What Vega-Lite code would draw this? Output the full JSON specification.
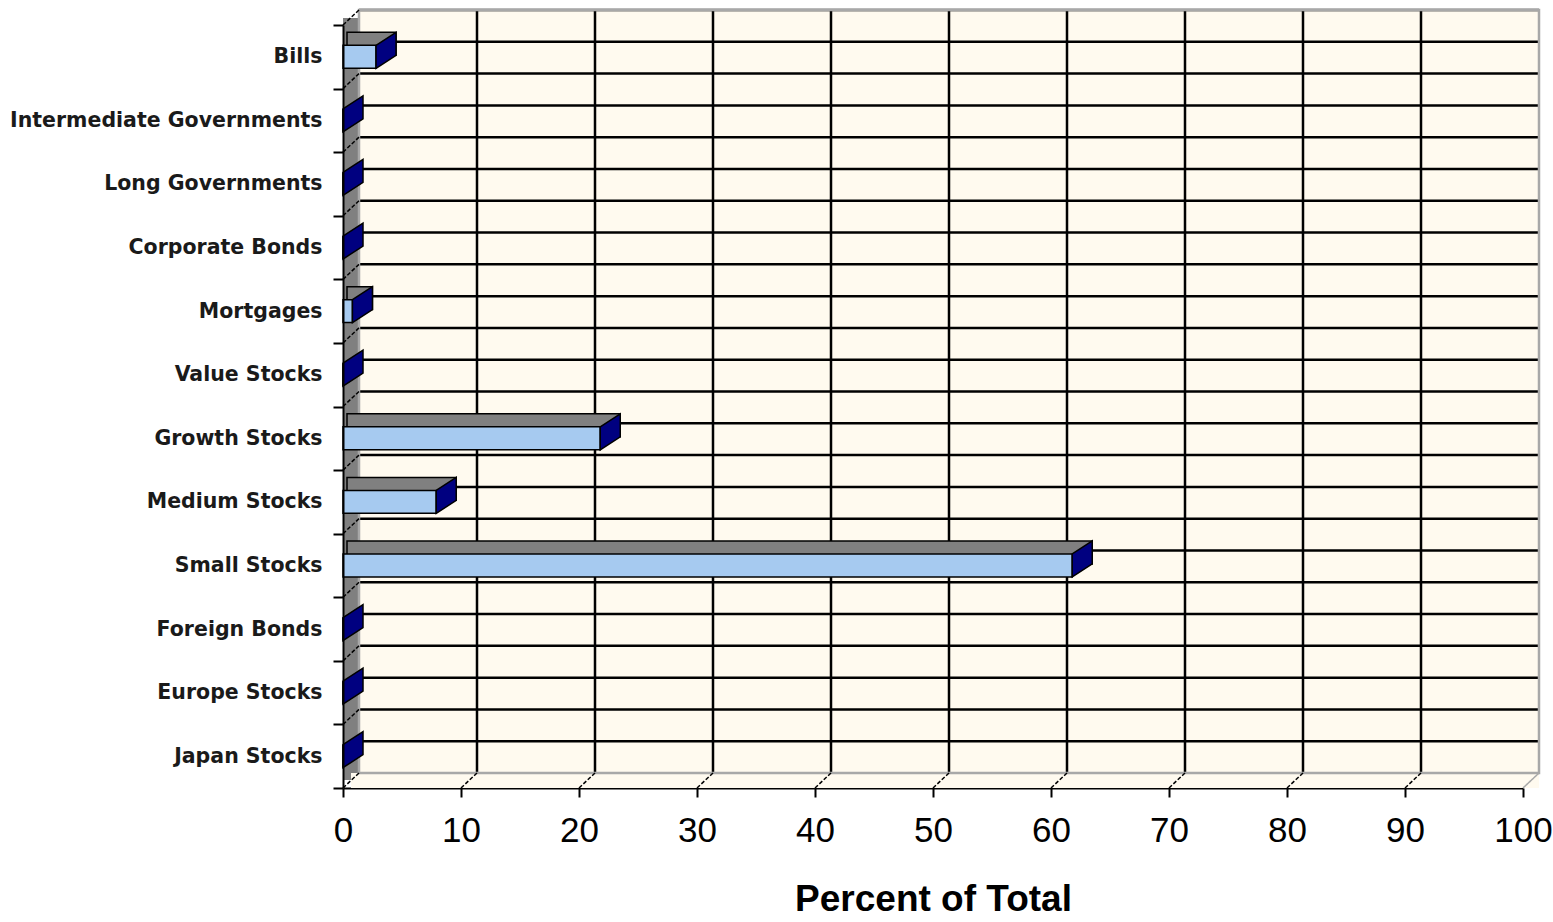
{
  "$schema": "https://vega.github.io/schema/vega-lite/v6.json",
  "autosize": "none",
  "width": 1180,
  "height": 763,
  "padding": {"left": 343, "top": 25, "right": 30, "bottom": 134},
  "background": "#ffffff",
  "config": {"view": {"stroke": null}},
  "datasets": {
    "alloc": [
      {"asset": "Bills", "pct": 2.8},
      {"asset": "Intermediate Governments", "pct": 0},
      {"asset": "Long Governments", "pct": 0},
      {"asset": "Corporate Bonds", "pct": 0},
      {"asset": "Mortgages", "pct": 0.8},
      {"asset": "Value Stocks", "pct": 0},
      {"asset": "Growth Stocks", "pct": 21.8},
      {"asset": "Medium Stocks", "pct": 7.9},
      {"asset": "Small Stocks", "pct": 61.8},
      {"asset": "Foreign Bonds", "pct": 0},
      {"asset": "Europe Stocks", "pct": 0},
      {"asset": "Japan Stocks", "pct": 0}
    ],
    "ticks": [
      {"t": 0}, {"t": 10}, {"t": 20}, {"t": 30}, {"t": 40}, {"t": 50},
      {"t": 60}, {"t": 70}, {"t": 80}, {"t": 90}, {"t": 100}
    ],
    "frame": [{"part": "wall"}]
  },
  "layer": [
    {
      "description": "back wall fill",
      "data": {"name": "frame"},
      "mark": {"type": "rect", "fill": "#fffaef", "xOffset": 16, "x2Offset": 16, "yOffset": -15, "y2Offset": -15},
      "encoding": {
        "x": {"datum": 0, "type": "quantitative", "scale": {"domain": [0, 100], "nice": false, "zero": true},
              "axis": {"title": "Percent of Total", "values": [0, 10, 20, 30, 40, 50, 60, 70, 80, 90, 100], "grid": false,
                       "domainColor": "#000000", "domainWidth": 2, "tickColor": "#000000", "tickWidth": 2, "tickSize": 9,
                       "labelFont": "Liberation Sans", "labelFontSize": 35, "labelColor": "#000000", "labelPadding": 16, "labelFlush": false,
                       "titleFont": "Liberation Sans", "titleFontSize": 37, "titleFontWeight": "bold", "titleColor": "#000000", "titlePadding": 33}},
        "x2": {"datum": 100},
        "y": {"datum": "Bills", "type": "nominal", "bandPosition": 0,
              "scale": {"domain": ["Bills", "Intermediate Governments", "Long Governments", "Corporate Bonds", "Mortgages", "Value Stocks", "Growth Stocks", "Medium Stocks", "Small Stocks", "Foreign Bonds", "Europe Stocks", "Japan Stocks"], "paddingInner": 0, "paddingOuter": 0},
              "axis": {"title": null, "tickBand": "extent", "domainColor": "#000000", "domainWidth": 2, "tickColor": "#000000", "tickWidth": 2, "tickSize": 10,
                       "labelFont": "DejaVu Sans", "labelFontWeight": "bold", "labelFontSize": 20.5, "labelColor": "#1a1a1a", "labelPadding": 11, "labelLimit": 0}},
        "y2": {"datum": "Japan Stocks", "bandPosition": 1}
      }
    },
    {
      "description": "left side wall",
      "data": {"name": "frame"},
      "mark": {"type": "rect", "fill": "#808080", "x2Offset": 16, "yOffset": -7, "y2Offset": -8},
      "encoding": {
        "x": {"datum": 0, "type": "quantitative"},
        "x2": {"datum": 0},
        "y": {"datum": "Bills", "type": "nominal", "bandPosition": 0},
        "y2": {"datum": "Japan Stocks", "bandPosition": 1}
      }
    },
    {
      "description": "floor",
      "data": {"name": "frame"},
      "mark": {"type": "rect", "fill": "#fffaef", "xOffset": 8, "x2Offset": 16, "yOffset": -15, "y2Offset": 0},
      "encoding": {
        "x": {"datum": 0, "type": "quantitative"},
        "x2": {"datum": 100},
        "y": {"datum": "Japan Stocks", "type": "nominal", "bandPosition": 1},
        "y2": {"datum": "Japan Stocks", "bandPosition": 1}
      }
    },
    {
      "description": "vertical gridlines on the back wall",
      "data": {"name": "ticks"},
      "transform": [{"filter": "datum.t > 0 && datum.t < 100"}],
      "mark": {"type": "rule", "color": "#000000", "strokeWidth": 2.5, "xOffset": 16, "yOffset": -15, "y2Offset": -15},
      "encoding": {
        "x": {"field": "t", "type": "quantitative"},
        "y": {"datum": "Bills", "type": "nominal", "bandPosition": 0},
        "y2": {"datum": "Japan Stocks", "bandPosition": 1}
      }
    },
    {
      "description": "horizontal gridlines on the back wall, band centres",
      "data": {"name": "alloc"},
      "mark": {"type": "rule", "color": "#000000", "strokeWidth": 2.5, "xOffset": 16, "x2Offset": 16, "yOffset": -15},
      "encoding": {
        "y": {"field": "asset", "type": "nominal", "sort": null, "bandPosition": 0.5},
        "x": {"datum": 0, "type": "quantitative"},
        "x2": {"datum": 100}
      }
    },
    {
      "description": "horizontal gridlines on the back wall, band edges",
      "data": {"name": "alloc"},
      "mark": {"type": "rule", "color": "#000000", "strokeWidth": 2.5, "xOffset": 16, "x2Offset": 16, "yOffset": -15},
      "encoding": {
        "y": {"field": "asset", "type": "nominal", "sort": null, "bandPosition": 0},
        "x": {"datum": 0, "type": "quantitative"},
        "x2": {"datum": 100}
      }
    },
    {
      "description": "back wall outline",
      "data": {"name": "frame"},
      "mark": {"type": "rect", "fill": null, "stroke": "#a8a8a8", "strokeWidth": 2.5, "xOffset": 16, "x2Offset": 16, "yOffset": -15, "y2Offset": -15},
      "encoding": {
        "x": {"datum": 0, "type": "quantitative"},
        "x2": {"datum": 100},
        "y": {"datum": "Bills", "type": "nominal", "bandPosition": 0},
        "y2": {"datum": "Japan Stocks", "bandPosition": 1}
      }
    },
    {
      "description": "floor diagonals from each value tick",
      "data": {"name": "ticks"},
      "mark": {"type": "rule", "strokeWidth": 1.5, "x2Offset": 16, "y2Offset": -15},
      "encoding": {
        "x": {"field": "t", "type": "quantitative"},
        "x2": {"field": "t"},
        "y": {"datum": "Japan Stocks", "type": "nominal", "bandPosition": 1},
        "y2": {"datum": "Japan Stocks", "bandPosition": 1},
        "color": {"condition": {"test": "datum.t == 100", "value": "#a8a8a8"}, "value": "#000000"},
        "strokeDash": {"condition": {"test": "datum.t == 100", "value": [1, 0]}, "value": [4, 2]}
      }
    },
    {
      "description": "side wall diagonals at category boundaries",
      "data": {"name": "alloc"},
      "mark": {"type": "rule", "color": "#000000", "strokeWidth": 1.5, "strokeDash": [4, 2], "x2Offset": 16, "y2Offset": -15},
      "encoding": {
        "x": {"datum": 0, "type": "quantitative"},
        "x2": {"datum": 0},
        "y": {"field": "asset", "type": "nominal", "sort": null, "bandPosition": 0},
        "y2": {"field": "asset", "bandPosition": 0}
      }
    },
    {
      "description": "bar depth (top face), only for non-empty bars",
      "data": {"name": "alloc"},
      "transform": [{"filter": "datum.pct > 0"}],
      "mark": {"type": "bar", "fill": "#808080", "stroke": "#000000", "strokeWidth": 1.5, "height": {"band": 0.36}, "xOffset": 20, "x2Offset": 4, "yOffset": -13},
      "encoding": {
        "y": {"field": "asset", "type": "nominal", "sort": null},
        "x": {"field": "pct", "type": "quantitative"},
        "x2": {"datum": 0}
      }
    },
    {
      "description": "bar front face",
      "data": {"name": "alloc"},
      "mark": {"type": "bar", "fill": "#a6caf0", "stroke": "#000000", "strokeWidth": 1.5, "height": {"band": 0.36}},
      "encoding": {
        "y": {"field": "asset", "type": "nominal", "sort": null},
        "x": {"field": "pct", "type": "quantitative"}
      }
    },
    {
      "description": "bar end face",
      "data": {"name": "alloc"},
      "mark": {"type": "point", "shape": "M0,-11.5 L20,-24.5 L20,-1.5 L0,11.5 Z", "size": 4, "filled": true, "fill": "#000080", "stroke": "#000000", "strokeWidth": 1.5, "opacity": 1},
      "encoding": {
        "y": {"field": "asset", "type": "nominal", "sort": null},
        "x": {"field": "pct", "type": "quantitative"}
      }
    }
  ]
}
